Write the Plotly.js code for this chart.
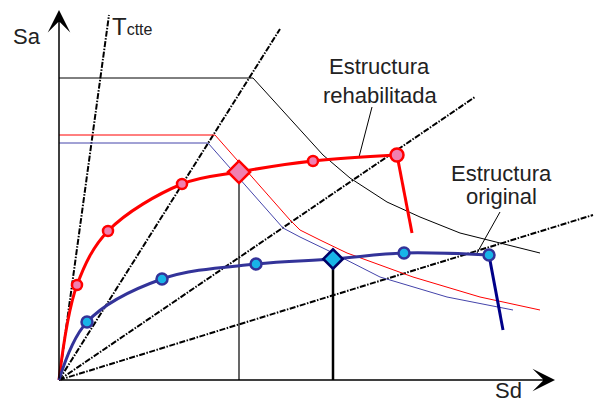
<!DOCTYPE html>
<html>
<head>
<meta charset="utf-8">
<script src="https://cdn.plot.ly/plotly-3.0.1.min.js"></script>
<style>html,body{margin:0;padding:0;background:#fff;}#chart{width:595px;height:402px;}</style>
</head>
<body>
<div id="chart"></div>
<script>
// Demand spectra (Sd, Sa) in schematic units
const demandRehabSd = [0, 194, 264, 291, 328, 361, 401, 481];
const demandRehabSa = [302, 302, 225, 202, 178, 163, 147, 127];
const demandRedSd = [0, 156, 231, 241, 261, 288, 354, 421, 481];
const demandRedSa = [245, 245, 160, 150, 140, 127, 103, 83, 70];
const demandBlueSd = [0, 149, 224, 241, 268, 321, 388, 454];
const demandBlueSa = [237, 237, 152, 143, 130, 103, 83, 70];

// Capacity curves
const capRehabSd = [0, 18, 49, 123, 180, 254, 338];
const capRehabSa = [0, 95, 149, 196, 208, 219, 225];
const capRehabDropSd = [338, 353];
const capRehabDropSa = [225, 147];
const capOrigSd = [0, 28, 103, 197, 274, 345, 430];
const capOrigSa = [0, 58, 101, 116, 121, 127, 125];
const capOrigDropSd = [430, 444];
const capOrigDropSa = [125, 50];
const perfIndex = 4;

// Constant-period radial lines (end points, all start at origin)
const periodEndSd = [50, 221, 416, 534];
const periodEndSa = [365, 351, 283, 165];

// Leader lines for labels
const leaderRehabSd = [313, 300];
const leaderRehabSa = [273, 223];
const leaderOrigSd = [441, 418];
const leaderOrigSa = [168, 127];

const traces = [];
const dashDot = '6px,1.5px,1.5px,1.5px';
for (let i = 0; i < periodEndSd.length; i++) {
  traces.push({x: [0, periodEndSd[i]], y: [0, periodEndSa[i]], mode: 'lines',
    line: {color: '#000', width: 2, dash: dashDot}});
}
traces.push({x: demandRehabSd, y: demandRehabSa, mode: 'lines', line: {color: '#000', width: 1}});
traces.push({x: demandRedSd, y: demandRedSa, mode: 'lines', line: {color: '#ff0000', width: 1}});
traces.push({x: demandBlueSd, y: demandBlueSa, mode: 'lines', line: {color: '#4444aa', width: 1}});

// performance point drop lines
traces.push({x: [capRehabSd[perfIndex], capRehabSd[perfIndex]], y: [0, capRehabSa[perfIndex]], mode: 'lines', line: {color: '#000', width: 1.2}});
traces.push({x: [capOrigSd[perfIndex], capOrigSd[perfIndex]], y: [0, capOrigSa[perfIndex]], mode: 'lines', line: {color: '#000', width: 2.5}});

// leader lines
traces.push({x: leaderRehabSd, y: leaderRehabSa, mode: 'lines', line: {color: '#000', width: 1}});
traces.push({x: leaderOrigSd, y: leaderOrigSa, mode: 'lines', line: {color: '#000', width: 1}});

// capacity curves
traces.push({x: capRehabSd, y: capRehabSa, mode: 'lines', line: {color: '#ff0000', width: 3, shape: 'spline', smoothing: 1}});
traces.push({x: capRehabDropSd, y: capRehabDropSa, mode: 'lines', line: {color: '#ff0000', width: 3}});
traces.push({x: capOrigSd, y: capOrigSa, mode: 'lines', line: {color: '#333399', width: 3, shape: 'spline', smoothing: 1}});
traces.push({x: capOrigDropSd, y: capOrigDropSa, mode: 'lines', line: {color: '#000088', width: 3}});

// markers
const pick = (arr, idx) => idx.map(i => arr[i]);
const redCircIdx = [1, 2, 3, 5, 6];
traces.push({x: pick(capRehabSd, redCircIdx), y: pick(capRehabSa, redCircIdx), mode: 'markers',
  marker: {symbol: 'circle', size: [10, 10, 10, 10, 13], color: '#f080b0', opacity: 1, line: {color: '#ff0000', width: 2.5}}});
traces.push({x: [capRehabSd[perfIndex]], y: [capRehabSa[perfIndex]], mode: 'markers',
  marker: {symbol: 'diamond', size: 17, color: '#f080b0', opacity: 1, line: {color: '#ff0000', width: 2.5}}});
const blueCircIdx = [1, 2, 3, 5, 6];
traces.push({x: pick(capOrigSd, blueCircIdx), y: pick(capOrigSa, blueCircIdx), mode: 'markers',
  marker: {symbol: 'circle', size: 11, color: '#18b4e8', opacity: 1, line: {color: '#333399', width: 2.5}}});
traces.push({x: [capOrigSd[perfIndex]], y: [capOrigSa[perfIndex]], mode: 'markers',
  marker: {symbol: 'diamond', size: 15, color: '#18b4e8', opacity: 1, line: {color: '#000066', width: 2.5}}});

const font = {family: 'Liberation Sans, Arial, sans-serif', size: 22, color: '#222'};
const annotations = [
  // axes with arrows
  {x: 0, y: 370, ax: 0, ay: 0, xref: 'x', yref: 'y', axref: 'x', ayref: 'y', text: '', showarrow: true,
   arrowhead: 3, arrowsize: 2.5, arrowwidth: 1.5, arrowcolor: '#000'},
  {x: 496, y: 0, ax: 0, ay: 0, xref: 'x', yref: 'y', axref: 'x', ayref: 'y', text: '', showarrow: true,
   arrowhead: 3, arrowsize: 2.5, arrowwidth: 1.5, arrowcolor: '#000'},
  {x: -32.5, y: 344, text: 'Sa', showarrow: false, font: font, xanchor: 'center', yanchor: 'middle'},
  {x: 449.5, y: -10, text: 'Sd', showarrow: false, font: font, xanchor: 'center', yanchor: 'middle'},
  {x: 51, y: 354, text: "T<span style='font-size:16px'>ctte</span>", showarrow: false,
   font: Object.assign({}, font, {size: 24}), xanchor: 'left', yanchor: 'middle'},
  {x: 320.5, y: 314, text: 'Estructura', showarrow: false, font: font, xanchor: 'center', yanchor: 'middle'},
  {x: 321, y: 285, text: 'rehabilitada', showarrow: false, font: font, xanchor: 'center', yanchor: 'middle'},
  {x: 442.5, y: 207, text: 'Estructura', showarrow: false, font: font, xanchor: 'center', yanchor: 'middle'},
  {x: 442, y: 184, text: 'original', showarrow: false, font: font, xanchor: 'center', yanchor: 'middle'}
];

const layout = {
  width: 595, height: 402,
  margin: {l: 0, r: 0, t: 0, b: 0, pad: 0},
  paper_bgcolor: '#fff', plot_bgcolor: '#fff',
  showlegend: false, hovermode: false,
  xaxis: {range: [-59, 536], visible: false, fixedrange: true},
  yaxis: {range: [-22, 380], visible: false, fixedrange: true},
  annotations: annotations
};
Plotly.newPlot('chart', traces, layout, {staticPlot: true, displayModeBar: false});
</script>
</body>
</html>
